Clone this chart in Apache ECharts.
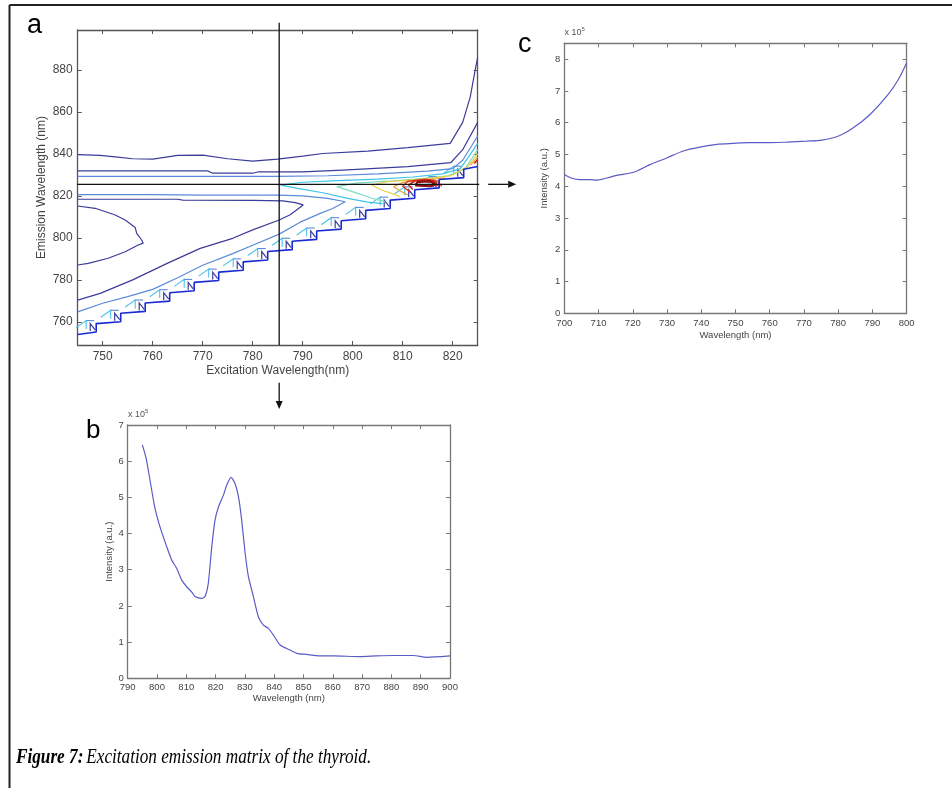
<!DOCTYPE html>
<html>
<head>
<meta charset="utf-8">
<title>Excitation emission matrix of the thyroid</title>
<script src="https://cdn.jsdelivr.net/npm/echarts@6/dist/echarts.min.js"></script>
<style>
  html, body { margin: 0; padding: 0; background: #fff; }
  #chart { width: 952px; height: 788px; }
</style>
</head>
<body>
<div id="chart"></div>
<script>
// ---------- panel a : contour lines, [excitation nm, emission nm] ----------
const aExTicks = [750, 760, 770, 780, 790, 800, 810, 820];
const aEmTicks = [760, 780, 800, 820, 840, 860, 880];
const cutExcitation = 785.3;   // vertical cut -> panel b
const cutEmission = 825.5;     // horizontal cut -> panel c

const navyTop = [[745,839.7],[749.5,839.3],[753,838.5],[756,837.7],[760,837.5],[765,839.3],[770,839.4],[775,837.7],[780,836.6],[785,837.5],[790,838.9],[794,840.2],[803,841.3],[811,843],[819.5,845],[822,855],[823.5,867],[824.5,880],[825,886]];
const navyMid = [[745,831.9],[771,831.9],[772,830.8],[780,830.8],[781,831.4],[790,831.4],[798,832.3],[811,833.9],[819.6,835.8],[822,842],[825,855]];
const blueMid = [[745,829.3],[785,829.3],[795,829.6],[805,830.5],[815,831.8],[820,833],[822,837],[825,848.5]];
const navyTongue = [[745,818.4],[765,818.4],[766,818],[780,817.9],[786,817.6],[788.5,816.8],[790.1,815.7],[787.5,811],[785.3,808.5],[780,803.8],[776,799.8],[769.5,795],[763,788],[756,780],[749.5,773.6],[745,770.4]];
const blueTongue = [[745,820.6],[760,820.6],[770,820.4],[785,820.4],[790,820],[795,818.8],[798.5,817.2],[796,814],[793.5,811.7],[789.5,807.5],[785.3,801.8],[780,796.5],[776,792.5],[770,787],[765,781],[760,775.5],[755,772],[750,768.9],[745,764.8]];
const navyLoop = [[745,815.2],[748.5,814.1],[752.5,810.9],[754.5,808.5],[756.5,805],[756.8,802.2],[757.8,799],[758.1,797.5],[757.1,796.6],[754.5,793.4],[751.1,790.3],[747.1,787.9],[745,787.1]];
const cyanLevel = [[806,816.3],[803,817],[799,818.8],[794,821.5],[789,823.6],[785.6,825.1],[790,826.5],[797,827.3],[805,828],[812,829],[818,830.5],[821.5,833],[823,838],[825,845]];
const greenLevel = [[806.5,817.3],[803.8,818.9],[801,821.2],[796.8,824.4],[801,826.2],[808,827.2],[814.5,828.4],[819,829.6],[822.5,833],[825,842]];
const yellowLevel = [[809.5,819.6],[807.8,821.2],[805.8,822.8],[803.8,825.2],[807,826.8],[814.5,828.1],[819.5,829.5],[823,834],[825,840]];
const orangeLevel = [[811,820.5],[809.5,822.3],[808.2,824.4],[810,826.4],[815,827.8],[818.5,828.5]];
const orangeEdge = [[823.5,834.5],[825,838.5]];
const redLevel = [[811.5,821.8],[810,824.6],[811,827],[814.5,828],[817,827],[817.8,824.5]];
const redInner = [[812,823],[811.2,825.2],[812.5,827.2],[815.5,827.6],[816.8,826],[816.6,824.3]];
const darkRedLevel = [[812.5,825],[813,826.7],[815.5,826.9],[816.5,825.5],[815.5,824.6],[812.5,825]];
const redEdge = [[824.3,835.5],[825,837.2]];

// scatter cut-off staircase: jump position, level before and after the jump
const stairStart = [745, 754.0];
const stairEnd = [825, 834.0];
const stairX = [748.7, 753.6, 758.5, 763.4, 768.3, 773.2, 778.1, 783.0, 787.9, 792.8, 797.7, 802.6, 807.5, 812.4, 817.3, 822.2];
const stairLow = [755.2, 760.1, 765.0, 769.9, 774.8, 779.7, 784.6, 789.5, 794.4, 799.3, 804.2, 809.1, 814.0, 818.9, 823.8, 828.7];
const stairHigh = [759.2, 764.1, 769.0, 773.9, 778.8, 783.7, 788.6, 793.5, 798.4, 803.3, 808.2, 813.1, 818.0, 822.9, 827.8, 832.7];

// arrows leading from the cuts to panels b and c: [x1, y1, x2, y2] in panel a units
const cutArrows = [
  [cutExcitation, 731, cutExcitation, 718.5],
  [827.1, cutEmission, 832.7, cutEmission]
];

// ---------- panel b : emission spectrum at the vertical cut (x 10^5) ----------
const bTicksX = [790, 800, 810, 820, 830, 840, 850, 860, 870, 880, 890, 900];
const bWave = [795, 796.3, 797.6, 799.3, 801, 803.3, 805, 806.7, 808.4, 810.1, 811.8, 813, 815.3, 816.4, 817.5, 818.7, 819.8, 821, 822.7, 823.8, 825.3, 826.6, 827.8, 828.9, 830.1, 831.2, 832.9, 834.6, 836.3, 838, 839.7, 842, 845.4, 847.7, 851.1, 855.6, 860.2, 869.3, 875, 880.7, 887.5, 892, 900];
const bIntensity = [6.45, 6.08, 5.48, 4.70, 4.19, 3.64, 3.27, 3.04, 2.72, 2.53, 2.39, 2.26, 2.21, 2.26, 2.62, 3.64, 4.37, 4.74, 5.07, 5.34, 5.55, 5.39, 5.02, 4.37, 3.45, 2.81, 2.26, 1.70, 1.47, 1.38, 1.20, 0.92, 0.78, 0.69, 0.66, 0.62, 0.62, 0.60, 0.62, 0.63, 0.63, 0.58, 0.62];

// ---------- panel c : excitation spectrum at the horizontal cut (x 10^5) ----------
const cTicksY = [0, 1, 2, 3, 4, 5, 6, 7, 8];
const cWave = [700, 702, 704.6, 707.5, 709.4, 712.4, 715.3, 720.2, 725, 729.9, 734.7, 739.6, 744.5, 749.4, 754.2, 759.1, 765, 770.8, 775.2, 780.1, 784.4, 789.3, 794.6, 797.6, 800];
const cIntensity = [4.37, 4.26, 4.21, 4.21, 4.19, 4.26, 4.34, 4.44, 4.68, 4.89, 5.11, 5.23, 5.32, 5.35, 5.37, 5.37, 5.39, 5.42, 5.45, 5.58, 5.84, 6.26, 6.89, 7.37, 7.89];

const FONT = "'Liberation Sans', Arial, sans-serif";
const SPECTRUM = "#5b5bc8";

const chart = echarts.init(document.getElementById("chart"), null, { renderer: "canvas" });

// box axes (MATLAB style: frame on four sides, ticks pointing in)
function xAxes(grid, min, max, ticks, name, fontSize, frame, margin, nameGap) {
  const tick = { show: true, inside: true, length: 4, customValues: ticks, lineStyle: { color: frame } };
  const line = { show: true, onZero: false, lineStyle: { color: frame, width: 1.3 } };
  return [
    {
      type: "value", gridIndex: grid, position: "bottom", min, max,
      axisLine: line, axisTick: tick, splitLine: { show: false },
      axisLabel: { customValues: ticks, margin, color: "#444", fontSize, fontFamily: FONT },
      name, nameLocation: "middle", nameGap,
      nameTextStyle: { color: "#444", fontSize, fontFamily: FONT }
    },
    {
      type: "value", gridIndex: grid, position: "top", min, max,
      axisLine: line, axisTick: tick, splitLine: { show: false }, axisLabel: { show: false }
    }
  ];
}

function yAxes(grid, min, max, ticks, name, fontSize, frame, margin, nameGap) {
  const tick = { show: true, inside: true, length: 4, customValues: ticks, lineStyle: { color: frame } };
  const line = { show: true, onZero: false, lineStyle: { color: frame, width: 1.3 } };
  return [
    {
      type: "value", gridIndex: grid, position: "left", min, max,
      axisLine: line, axisTick: tick, splitLine: { show: false },
      axisLabel: { customValues: ticks, margin, color: "#444", fontSize, fontFamily: FONT },
      name, nameLocation: "middle", nameGap, nameRotate: 90,
      nameTextStyle: { color: "#444", fontSize, fontFamily: FONT }
    },
    {
      type: "value", gridIndex: grid, position: "right", min, max,
      axisLine: line, axisTick: tick, splitLine: { show: false }, axisLabel: { show: false }
    }
  ];
}

function contour(data, color, width) {
  return {
    type: "line", xAxisIndex: 0, yAxisIndex: 0, data,
    symbol: "none", silent: true, animation: false,
    lineStyle: { color, width: width || 1.2 }
  };
}

const stairPoints = [stairStart];
stairX.forEach((x, i) => {
  stairPoints.push([x, stairLow[i]], [x, stairHigh[i]]);
});
stairPoints.push(stairEnd);

const option = {
  animation: false,
  backgroundColor: "#fff",
  grid: [
    { left: 77.7, top: 30, width: 400, height: 315 },
    { left: 127.7, top: 425, width: 322.3, height: 253.3 },
    { left: 564.3, top: 43.3, width: 342.4, height: 270 }
  ],
  xAxis: [
    ...xAxes(0, 745, 825, aExTicks, "Excitation Wavelength(nm)", 12, "#555", 6, 20),
    ...xAxes(1, 790, 900, bTicksX, "Wavelength (nm)", 9.5, "#777", 4, 15),
    ...xAxes(2, 700, 800, [700, 710, 720, 730, 740, 750, 760, 770, 780, 790, 800], "Wavelength (nm)", 9.5, "#777", 5, 17)
  ],
  yAxis: [
    ...yAxes(0, 749, 899, aEmTicks, "Emission Wavelength (nm)", 12, "#555", 5, 30),
    ...yAxes(1, 0, 7, [0, 1, 2, 3, 4, 5, 6, 7], "Intensity (a.u.)", 9.5, "#777", 4, 13),
    ...yAxes(2, 0, 8.5, cTicksY, "Intensity (a.u.)", 9.5, "#777", 4, 15)
  ],
  series: [
    contour(navyTop, "#3c3c9a"),
    contour(navyMid, "#3c3c9a"),
    contour(blueMid, "#5a8ad8"),
    contour(navyTongue, "#3c3c9a"),
    contour(blueTongue, "#5a8ad8"),
    contour(navyLoop, "#3c3c9a"),
    contour(cyanLevel, "#3ec4ea"),
    contour(greenLevel, "#7fdcc0"),
    contour(yellowLevel, "#e6d24a"),
    contour(orangeLevel, "#f0a030"),
    contour(orangeEdge, "#f0a030"),
    contour(redLevel, "#e0341e", 1.4),
    contour(redInner, "#c82a18", 1.6),
    contour(darkRedLevel, "#8a0e0e", 2.2),
    contour(redEdge, "#d02818", 1.6),
    contour(stairPoints, "#1a2ad2", 1.6),
    {
      // small teeth of the stacked contours at every step of the cut-off
      type: "custom", xAxisIndex: 0, yAxisIndex: 0, silent: true, animation: false,
      data: stairX.map((x, i) => [x, stairLow[i], stairHigh[i]]),
      encode: { x: 0, y: [1, 2] },
      renderItem(params, api) {
        const lo = api.coord([api.value(0), api.value(1)]);
        const hi = api.coord([api.value(0), api.value(2)]);
        return {
          type: "group",
          children: [
            {
              type: "polyline",
              shape: { points: [[lo[0] - 6, lo[1] - 1], [lo[0] - 6, hi[1]], [lo[0] - 1, lo[1] - 2]] },
              style: { stroke: "#3c3c9a", fill: "none", lineWidth: 1.2 }
            },
            {
              type: "polyline",
              shape: { points: [[lo[0] - 20, hi[1] + 4], [lo[0] - 10, hi[1] - 3], [lo[0] - 10, lo[1] - 3]] },
              style: { stroke: "#4cc0ea", fill: "none", lineWidth: 1.1 }
            },
            {
              type: "polyline",
              shape: { points: [[lo[0] - 10, hi[1] - 3], [lo[0] - 2, hi[1] - 3]] },
              style: { stroke: "#5a8ad8", fill: "none", lineWidth: 1.1 }
            }
          ]
        };
      }
    },
    {
      // cross hair through the selected wavelengths
      type: "line", xAxisIndex: 0, yAxisIndex: 0, clip: false, silent: true,
      data: [[cutExcitation, 902.5], [cutExcitation, 749]], symbol: "none",
      lineStyle: { color: "#111", width: 1.3 }
    },
    {
      type: "line", xAxisIndex: 0, yAxisIndex: 0, clip: false, silent: true,
      data: [[744.3, cutEmission], [825.3, cutEmission]], symbol: "none",
      lineStyle: { color: "#111", width: 1.3 }
    },
    {
      // arrows to the cut panels
      type: "custom", xAxisIndex: 0, yAxisIndex: 0, clip: false, silent: true,
      data: cutArrows,
      renderItem(params, api) {
        const p1 = api.coord([api.value(0), api.value(1)]);
        const p2 = api.coord([api.value(2), api.value(3)]);
        const dx = p2[0] - p1[0], dy = p2[1] - p1[1];
        const len = Math.sqrt(dx * dx + dy * dy);
        const ux = dx / len, uy = dy / len;
        const head = 8, half = 3.5;
        const bx = p2[0] - ux * head, by = p2[1] - uy * head;
        return {
          type: "group",
          children: [
            { type: "line", shape: { x1: p1[0], y1: p1[1], x2: bx, y2: by }, style: { stroke: "#111", lineWidth: 1.3 } },
            {
              type: "polygon",
              shape: { points: [[p2[0], p2[1]], [bx - uy * half, by + ux * half], [bx + uy * half, by - ux * half]] },
              style: { fill: "#111" }
            }
          ]
        };
      }
    },
    {
      type: "line", xAxisIndex: 2, yAxisIndex: 2,
      data: bWave.map((w, i) => [w, bIntensity[i]]),
      symbol: "none", smooth: 0.2, silent: true,
      lineStyle: { color: SPECTRUM, width: 1.2 }
    },
    {
      type: "line", xAxisIndex: 4, yAxisIndex: 4,
      data: cWave.map((w, i) => [w, cIntensity[i]]),
      symbol: "none", smooth: 0.3, silent: true,
      lineStyle: { color: SPECTRUM, width: 1.2 }
    }
  ],
  graphic: [
    { type: "line", shape: { x1: 9.5, y1: 5, x2: 952, y2: 5 }, style: { stroke: "#222", lineWidth: 2 } },
    { type: "line", shape: { x1: 9.5, y1: 5, x2: 9.5, y2: 788 }, style: { stroke: "#222", lineWidth: 2 } },
    { type: "text", x: 27, y: 39, style: { text: "a", fontSize: 27, fontFamily: "Liberation Sans", fill: "#000", textVerticalAlign: "bottom" } },
    { type: "text", x: 86, y: 444, style: { text: "b", fontSize: 26, fontFamily: "Liberation Sans", fill: "#000", textVerticalAlign: "bottom" } },
    { type: "text", x: 518, y: 58, style: { text: "c", fontSize: 27, fontFamily: "Liberation Sans", fill: "#000", textVerticalAlign: "bottom" } },
    {
      type: "text", x: 128, y: 421,
      style: {
        text: "{m|x 10}{s|5}", fill: "#555", textVerticalAlign: "bottom",
        rich: { m: { fontSize: 9, fontFamily: FONT, fill: "#555" }, s: { fontSize: 6, fontFamily: FONT, fill: "#555", padding: [0, 0, 7, 0] } }
      }
    },
    {
      type: "text", x: 564.5, y: 39,
      style: {
        text: "{m|x 10}{s|5}", fill: "#555", textVerticalAlign: "bottom",
        rich: { m: { fontSize: 9, fontFamily: FONT, fill: "#555" }, s: { fontSize: 6, fontFamily: FONT, fill: "#555", padding: [0, 0, 7, 0] } }
      }
    },
    {
      type: "text", x: 16, y: 768, scaleX: 0.86,
      style: {
        text: "{b|Figure 7:} {i|Excitation emission matrix of the thyroid.}",
        textVerticalAlign: "bottom",
        rich: {
          b: { fontSize: 20, fontFamily: "Liberation Serif", fontWeight: "bold", fontStyle: "italic", fill: "#000" },
          i: { fontSize: 20, fontFamily: "Liberation Serif", fontStyle: "italic", fill: "#000" }
        }
      }
    }
  ]
};

chart.setOption(option);
</script>
</body>
</html>
